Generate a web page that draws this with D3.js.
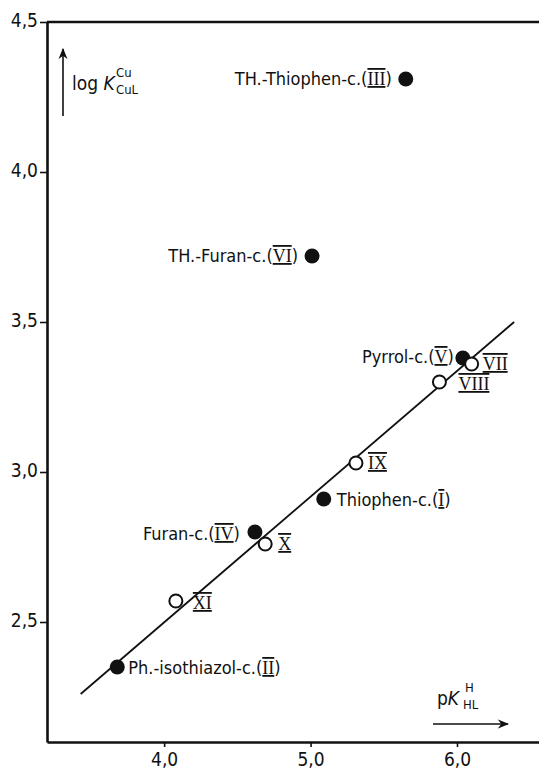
<!DOCTYPE html>
<html>
<head>
<meta charset="utf-8">
<script src="https://cdn.jsdelivr.net/npm/d3@7"></script>
<style>
  body { margin: 0; background: #fff; }
  svg text { font-family: "Liberation Sans Narrow", "DejaVu Sans Condensed", sans-serif; fill: #111; }
</style>
</head>
<body>
<div id="chart"></div>
<script>
// compounds, in order of their roman numeral
var numerals = ['I', 'II', 'III', 'IV', 'V', 'VI', 'VII', 'VIII', 'IX', 'X', 'XI'];
var names = ['Thiophen-c.', 'Ph.-isothiazol-c.', 'TH.-Thiophen-c.', 'Furan-c.', 'Pyrrol-c.',
             'TH.-Furan-c.', '', '', '', '', ''];
var pKHL = [5.09, 3.68, 5.65, 4.62, 6.04, 5.01, 6.10, 5.88, 5.31, 4.69, 4.08];
var logKCuL = [2.91, 2.35, 4.31, 2.80, 3.38, 3.72, 3.36, 3.30, 3.03, 2.76, 2.57];
var filled = [true, true, true, true, true, true, false, false, false, false, false];

// regression line end points [pK, logK]
var fitLine = [[3.43, 2.26], [6.39, 3.50]];

var xTicks = [4.0, 5.0, 6.0];
var yTicks = [2.5, 3.0, 3.5, 4.0, 4.5];

// where each label sits relative to its dot
var labelPlace = {
  I: { anchor: 'start', dx: 13, dy: 7 },
  II: { anchor: 'start', dx: 11, dy: 7 },
  III: { anchor: 'end', dx: -14, dy: 6 },
  IV: { anchor: 'end', dx: -15, dy: 8 },
  V: { anchor: 'end', dx: -9, dy: 5 },
  VI: { anchor: 'end', dx: -14, dy: 6 },
  VII: { anchor: 'start', dx: 11, dy: 6 },
  VIII: { anchor: 'start', dx: 19, dy: 8 },
  IX: { anchor: 'start', dx: 12, dy: 6 },
  X: { anchor: 'start', dx: 13, dy: 6 },
  XI: { anchor: 'start', dx: 17, dy: 8 }
};

var width = 539, height = 772;
var svg = d3.select('#chart').append('svg')
    .attr('width', width)
    .attr('height', height);

var x = d3.scaleLinear().domain([3.2, 6.56]).range([47, 539]);
var y = d3.scaleLinear().domain([2.1, 4.5]).range([742, 22]);

var comma = function (d) { return d3.format('.1f')(d).replace('.', ','); };

var yAxis = svg.append('g')
    .attr('transform', 'translate(' + x.range()[0] + ',0)')
    .call(d3.axisLeft(y).tickValues(yTicks).tickFormat(comma).tickSize(7).tickSizeOuter(0));
var xAxis = svg.append('g')
    .attr('transform', 'translate(0,' + y.range()[0] + ')')
    .call(d3.axisBottom(x).tickValues(xTicks).tickFormat(comma).tickSize(5).tickSizeOuter(0));

[yAxis, xAxis].forEach(function (g) {
  g.select('.domain').attr('stroke', '#111').attr('stroke-width', 2.6);
  g.selectAll('.tick line').attr('stroke', '#111').attr('stroke-width', 1.6);
  g.selectAll('.tick text').style('font-size', '19px').attr('fill', '#111');
});
yAxis.selectAll('.tick text').attr('x', -9).attr('dy', '0.25em');
xAxis.selectAll('.tick text').attr('y', 11);

// top frame line
svg.append('line')
    .attr('x1', x.range()[0]).attr('x2', x.range()[1])
    .attr('y1', y(4.5)).attr('y2', y(4.5))
    .attr('stroke', '#111').attr('stroke-width', 2.4);

// arrow heads
svg.append('defs').append('marker')
    .attr('id', 'arrow')
    .attr('viewBox', '0 0 10 10')
    .attr('refX', 9).attr('refY', 5)
    .attr('markerWidth', 7).attr('markerHeight', 7)
    .attr('orient', 'auto')
  .append('path')
    .attr('d', 'M0,1 L10,5 L0,9 L3,5 Z')
    .attr('fill', '#111');

// y axis caption: log K^Cu_CuL
svg.append('line')
    .attr('x1', 63).attr('y1', 116).attr('x2', 63).attr('y2', 49)
    .attr('stroke', '#111').attr('stroke-width', 1.6)
    .attr('marker-end', 'url(#arrow)');
var yCap = svg.append('text').attr('x', 72).attr('y', 90).style('font-size', '19px');
yCap.append('tspan').text('log ');
yCap.append('tspan').style('font-style', 'italic').text('K');
svg.append('text').attr('x', 116).attr('y', 77).style('font-size', '13px').text('Cu');
svg.append('text').attr('x', 116).attr('y', 94).style('font-size', '13px').text('CuL');

// x axis caption: pK^H_HL
svg.append('line')
    .attr('x1', 433).attr('y1', 724).attr('x2', 508).attr('y2', 724)
    .attr('stroke', '#111').attr('stroke-width', 1.6)
    .attr('marker-end', 'url(#arrow)');
var xCap = svg.append('text').attr('x', 437).attr('y', 705).style('font-size', '19px');
xCap.append('tspan').text('p');
xCap.append('tspan').style('font-style', 'italic').text('K');
svg.append('text').attr('x', 465).attr('y', 692).style('font-size', '13px').text('H');
svg.append('text').attr('x', 463).attr('y', 709).style('font-size', '13px').text('HL');

// regression line
svg.append('path')
    .datum(fitLine)
    .attr('d', d3.line().x(function (d) { return x(d[0]); }).y(function (d) { return y(d[1]); }))
    .attr('fill', 'none')
    .attr('stroke', '#111')
    .attr('stroke-width', 1.8);

var points = numerals.map(function (n, i) {
  return { num: n, name: names[i], pk: pKHL[i], logk: logKCuL[i], filled: filled[i] };
});

svg.append('g').selectAll('circle')
    .data(points)
  .enter().append('circle')
    .attr('cx', function (d) { return x(d.pk); })
    .attr('cy', function (d) { return y(d.logk); })
    .attr('r', function (d) { return d.filled ? 7.5 : 6.5; })
    .attr('fill', function (d) { return d.filled ? '#111' : '#fff'; })
    .attr('stroke', '#111')
    .attr('stroke-width', function (d) { return d.filled ? 0 : 2; });

var labels = svg.append('g').selectAll('text')
    .data(points)
  .enter().append('text')
    .attr('x', function (d) { return x(d.pk) + labelPlace[d.num].dx; })
    .attr('y', function (d) { return y(d.logk) + labelPlace[d.num].dy; })
    .attr('text-anchor', function (d) { return labelPlace[d.num].anchor; })
    .style('font-size', '18px');

labels.each(function (d) {
  var t = d3.select(this);
  if (d.name) {
    t.append('tspan').text(d.name + '(');
  }
  t.append('tspan')
      .style('font-family', '"Liberation Serif", "DejaVu Serif", serif')
      .style('text-decoration', 'underline overline')
      .text(d.num);
  if (d.name) {
    t.append('tspan').text(')');
  }
});
</script>
</body>
</html>
